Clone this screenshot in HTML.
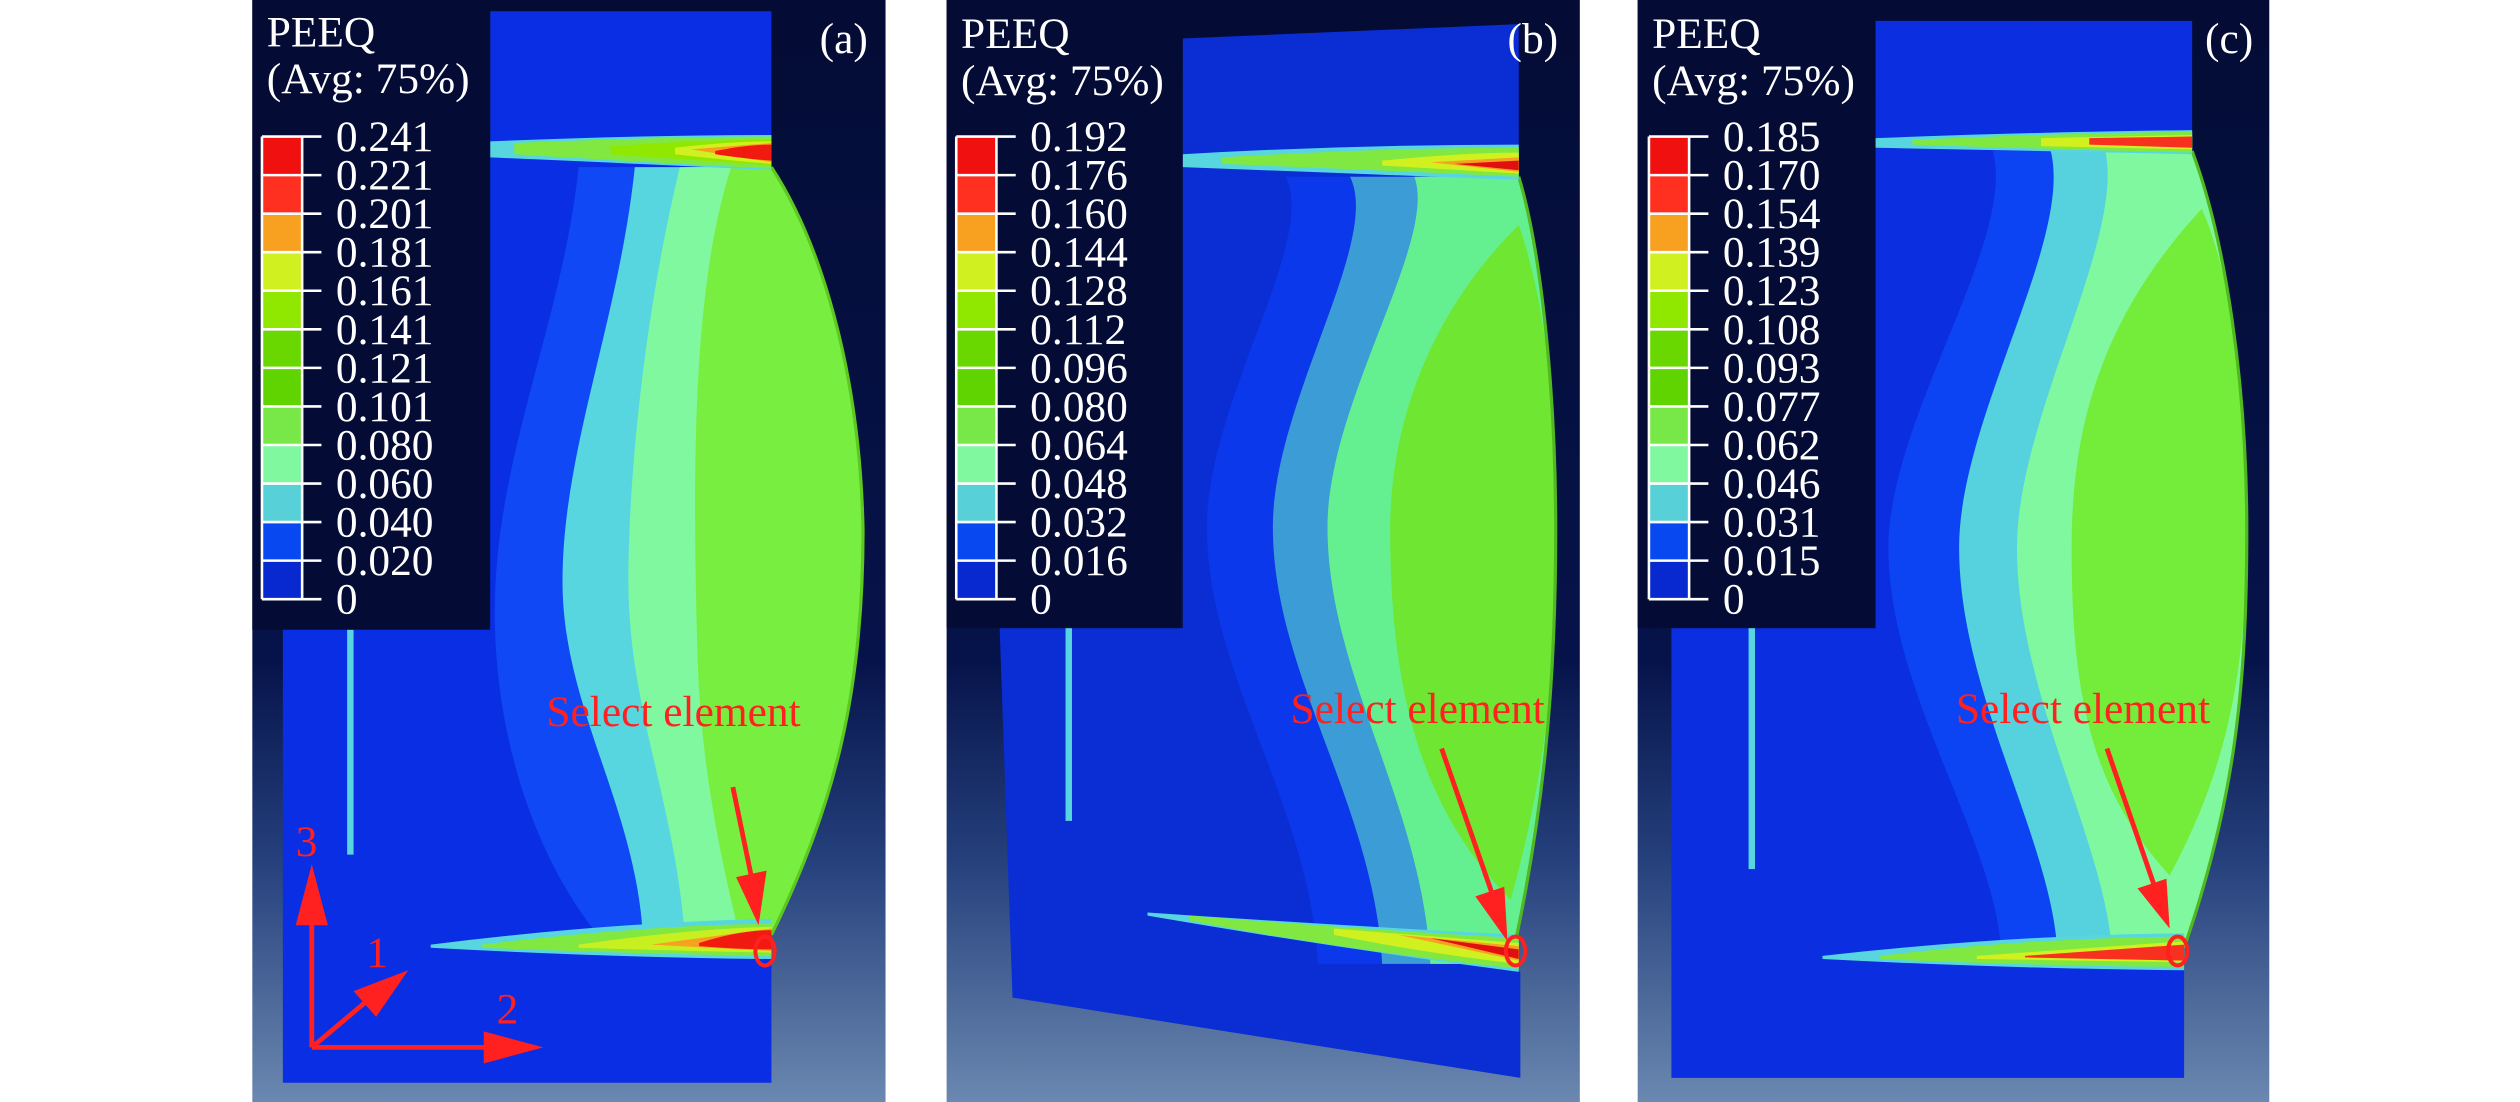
<!DOCTYPE html>
<html><head><meta charset="utf-8"><style>
html,body{margin:0;padding:0;background:#fff;}
svg{display:block;}
</style></head><body>
<svg width="2520" height="1102" viewBox="0 0 1568 686" preserveAspectRatio="none" xmlns="http://www.w3.org/2000/svg" font-family="'Liberation Serif','DejaVu Serif',serif">
<defs>
<linearGradient id="bg" x1="0" y1="0" x2="0" y2="1">
<stop offset="0" stop-color="#040c35"/><stop offset="0.6" stop-color="#06134a"/><stop offset="0.78" stop-color="#25407c"/><stop offset="1" stop-color="#6a88b0"/>
</linearGradient>
</defs>
<rect width="1568" height="686" fill="#fff"/>

<!-- ========== PANEL A ========== -->
<rect x="157" y="0" width="394" height="686" fill="url(#bg)"/>
<path d="M176,86 L305,86 L305,7 L480,7 L480,104 C510,150 535,230 537,330 C537,430 520,500 480,582 L480,674 L176,674 Z" fill="#0a2ee4"/>
<path d="M360,104 C350,200 310,280 308,373 C306,450 330,530 372,582 L480,582 C520,500 537,430 537,330 C535,230 510,150 480,104 Z" fill="#1048f6"/>
<path d="M395,104 C385,200 350,280 350,362 C350,440 395,500 400,582 L480,582 C520,500 537,430 537,330 C535,230 510,150 480,104 Z" fill="#58d6e0"/>
<path d="M423,104 C400,200 391,300 391,362 C391,440 420,500 426,582 L480,582 C520,500 537,430 537,330 C535,230 510,150 480,104 Z" fill="#80f8a0"/>
<path d="M455,104 C430,180 431,300 434,408 C436,480 450,540 460,582 L480,582 C520,500 537,430 537,330 C535,230 510,150 480,104 Z" fill="#78ef40"/>
<path d="M480,104 C510,150 535,230 537,330 C537,430 520,500 480,582" fill="none" stroke="#5cc820" stroke-width="2"/>
<path d="M305,88 Q400,84 480,84 L480,106 Q400,102 305,98 Z" fill="#58d6e0"/>
<path d="M320,89 Q420,85 480,85 L480,105 Q420,102 320,96 Z" fill="#80e840"/>
<path d="M380,91 Q440,87 480,87 L480,103 Q440,100 380,96 Z" fill="#90e800"/>
<path d="M420,92 Q455,88 480,88 L480,102 Q455,100 420,96 Z" fill="#d0f020"/>
<path d="M430,93 L480,89 L480,101 Z" fill="#f8a020"/>
<path d="M445,94 Q465,90 480,90 L480,100 Q465,99 445,96 Z" fill="#f01a10"/>
<path d="M268,588 Q380,574 480,572 L480,597 Q380,596 268,590 Z" fill="#58d6e0"/>
<path d="M300,588 Q400,576 480,575 L480,595 Q400,594 300,590 Z" fill="#80e840"/>
<path d="M360,588 Q430,578 480,577 L480,593 Q430,592 360,590 Z" fill="#c8f020"/>
<path d="M405,588 L480,578 L480,592 Z" fill="#f8a020"/>
<path d="M435,587 Q460,579 480,579 L480,591 Q460,591 435,589 Z" fill="#f01a10"/>
<rect x="216" y="392" width="4" height="140" fill="#58d6e0"/>
<rect x="157" y="0" width="148" height="392" fill="#040c35"/>
<text x="166" y="29" font-size="27" fill="#fff">PEEQ</text>
<text x="166" y="58" font-size="27" fill="#fff">(Avg: 75%)</text>
<g>
<rect x="163" y="85" width="25" height="24" fill="#f01010"/><rect x="163" y="109" width="25" height="24" fill="#ff3020"/><rect x="163" y="133" width="25" height="24" fill="#f8a020"/><rect x="163" y="157" width="25" height="24" fill="#d0f020"/><rect x="163" y="181" width="25" height="24" fill="#90e800"/><rect x="163" y="205" width="25" height="24" fill="#68d800"/><rect x="163" y="229" width="25" height="24" fill="#60d400"/><rect x="163" y="253" width="25" height="24" fill="#78e848"/><rect x="163" y="277" width="25" height="24" fill="#80f8a0"/><rect x="163" y="301" width="25" height="24" fill="#58d0d8"/><rect x="163" y="325" width="25" height="24" fill="#0848f0"/><rect x="163" y="349" width="25" height="24" fill="#0828d0"/>
<path d="M163,85V373 M188,85V373 M163,85H200 M163,109H200 M163,133H200 M163,157H200 M163,181H200 M163,205H200 M163,229H200 M163,253H200 M163,277H200 M163,301H200 M163,325H200 M163,349H200 M163,373H200" stroke="#fff" stroke-width="1.6" fill="none"/>
<g font-size="27" fill="#fff"><text x="209" y="94">0.241</text><text x="209" y="118">0.221</text><text x="209" y="142">0.201</text><text x="209" y="166">0.181</text><text x="209" y="190">0.161</text><text x="209" y="214">0.141</text><text x="209" y="238">0.121</text><text x="209" y="262">0.101</text><text x="209" y="286">0.080</text><text x="209" y="310">0.060</text><text x="209" y="334">0.040</text><text x="209" y="358">0.020</text><text x="209" y="382">0</text></g>
</g>
<text x="510" y="33" font-size="27" fill="#fff">(a)</text>
<text x="340" y="452" font-size="27" fill="#ff2020">Select element</text>
<line x1="456" y1="490" x2="468" y2="548" stroke="#ff2020" stroke-width="3"/>
<polygon points="458,546 477,542 472,576" fill="#ff2020"/>
<ellipse cx="476" cy="592" rx="6" ry="9" fill="none" stroke="#ff2020" stroke-width="2.5"/>
<line x1="194" y1="652" x2="194" y2="570" stroke="#ff2020" stroke-width="3"/>
<polygon points="194,538 184,576 204,576" fill="#ff2020"/>
<line x1="194" y1="652" x2="305" y2="652" stroke="#ff2020" stroke-width="3"/>
<polygon points="338,652 301,642 301,662" fill="#ff2020"/>
<line x1="194" y1="652" x2="232" y2="620" stroke="#ff2020" stroke-width="3"/>
<polygon points="254,604 220,617 234,633" fill="#ff2020"/>
<text x="184" y="533" font-size="27" fill="#ff2020">3</text>
<text x="228" y="602" font-size="27" fill="#ff2020">1</text>
<text x="309" y="637" font-size="27" fill="#ff2020">2</text>

<!-- ========== PANEL B ========== -->
<rect x="589" y="0" width="394" height="686" fill="url(#bg)"/>
<path d="M622,391 L736,391 L736,24 L945,15 L945,110 C960,160 968,250 968,330 C968,430 960,510 940,600 L946,605 L946,671 L630,621 Z" fill="#0a2ed4"/>
<path d="M800,110 C820,150 751,250 751,328 C751,420 815,500 820,600 L940,600 C960,510 968,430 968,330 C968,250 960,160 945,110 Z" fill="#0a38ea"/>
<path d="M840,110 C860,150 792,250 792,328 C792,420 855,500 860,600 L940,600 C960,510 968,430 968,330 C968,250 960,160 945,110 Z" fill="#3c9cd6"/>
<path d="M880,110 C895,150 826,250 826,328 C826,420 885,500 890,600 L940,600 C960,510 968,430 968,330 C968,250 960,160 945,110 Z" fill="#64f090"/>
<path d="M945,140 C885,200 865,270 865,330 C865,420 880,500 940,560 C962,480 968,420 968,330 C968,250 962,190 945,140 Z" fill="#6ee632"/>
<path d="M945,110 C960,160 968,250 968,330 C968,430 960,510 940,600" fill="none" stroke="#50b820" stroke-width="2"/>
<path d="M736,96 Q840,90 945,90 L945,112 Q840,108 736,104 Z" fill="#58d6e0"/>
<path d="M760,98 Q860,92 945,92 L945,110 Q860,106 760,102 Z" fill="#80e840"/>
<path d="M860,100 Q910,95 945,95 L945,108 Q910,106 860,103 Z" fill="#d0f020"/>
<path d="M890,101 L945,98 L945,107 Z" fill="#f8a020"/>
<path d="M905,102 L945,100 L945,106 Z" fill="#e01010"/>
<path d="M714,568 Q830,576 945,582 L945,605 Q830,590 714,570 Z" fill="#58d6e0"/>
<path d="M740,570 Q840,578 945,584 L945,603 Q840,592 740,573 Z" fill="#80e840"/>
<path d="M830,578 Q890,583 945,587 L945,600 Q890,594 830,582 Z" fill="#d0f020"/>
<path d="M870,582 L945,589 L945,598 Z" fill="#f8a020"/>
<path d="M890,584 L945,591 L945,597 Z" fill="#e01010"/>
<rect x="663" y="391" width="4" height="120" fill="#58d6e0"/>
<rect x="589" y="0" width="146" height="391" fill="#040c35"/>
<text x="598" y="30" font-size="27" fill="#fff">PEEQ</text>
<text x="598" y="59" font-size="27" fill="#fff">(Avg: 75%)</text>
<g transform="translate(432,0)">
<rect x="163" y="85" width="25" height="24" fill="#f01010"/><rect x="163" y="109" width="25" height="24" fill="#ff3020"/><rect x="163" y="133" width="25" height="24" fill="#f8a020"/><rect x="163" y="157" width="25" height="24" fill="#d0f020"/><rect x="163" y="181" width="25" height="24" fill="#90e800"/><rect x="163" y="205" width="25" height="24" fill="#68d800"/><rect x="163" y="229" width="25" height="24" fill="#60d400"/><rect x="163" y="253" width="25" height="24" fill="#78e848"/><rect x="163" y="277" width="25" height="24" fill="#80f8a0"/><rect x="163" y="301" width="25" height="24" fill="#58d0d8"/><rect x="163" y="325" width="25" height="24" fill="#0848f0"/><rect x="163" y="349" width="25" height="24" fill="#0828d0"/>
<path d="M163,85V373 M188,85V373 M163,85H200 M163,109H200 M163,133H200 M163,157H200 M163,181H200 M163,205H200 M163,229H200 M163,253H200 M163,277H200 M163,301H200 M163,325H200 M163,349H200 M163,373H200" stroke="#fff" stroke-width="1.6" fill="none"/>
<g font-size="27" fill="#fff"><text x="209" y="94">0.192</text><text x="209" y="118">0.176</text><text x="209" y="142">0.160</text><text x="209" y="166">0.144</text><text x="209" y="190">0.128</text><text x="209" y="214">0.112</text><text x="209" y="238">0.096</text><text x="209" y="262">0.080</text><text x="209" y="286">0.064</text><text x="209" y="310">0.048</text><text x="209" y="334">0.032</text><text x="209" y="358">0.016</text><text x="209" y="382">0</text></g>
</g>
<text x="938" y="33" font-size="27" fill="#fff">(b)</text>
<text x="803" y="450" font-size="27" fill="#ff2020">Select element</text>
<line x1="897" y1="466" x2="928" y2="555" stroke="#ff2020" stroke-width="3"/>
<polygon points="918,558 936,552 938,586" fill="#ff2020"/>
<ellipse cx="943" cy="592" rx="6" ry="9" fill="none" stroke="#ff2020" stroke-width="2.5"/>

<!-- ========== PANEL C ========== -->
<rect x="1019" y="0" width="393" height="686" fill="url(#bg)"/>
<path d="M1040,391 L1167,391 L1167,13 L1364,13 L1364,94 C1385,150 1398,240 1398,330 C1398,430 1390,500 1359,590 L1359,671 L1040,671 Z" fill="#0a2ee0"/>
<path d="M1240,94 C1255,150 1175,260 1175,341 C1175,430 1240,520 1245,590 L1359,590 C1390,500 1398,430 1398,330 C1398,240 1385,150 1364,94 Z" fill="#0c44f4"/>
<path d="M1276,94 C1290,150 1219,260 1219,341 C1219,430 1275,520 1280,590 L1359,590 C1390,500 1398,430 1398,330 C1398,240 1385,150 1364,94 Z" fill="#56d2de"/>
<path d="M1310,94 C1322,150 1255,260 1255,341 C1255,430 1308,520 1314,590 L1359,590 C1390,500 1398,430 1398,330 C1398,240 1385,150 1364,94 Z" fill="#80f8a0"/>
<path d="M1370,130 C1305,200 1289,270 1289,341 C1289,430 1300,490 1350,545 C1385,480 1398,420 1398,330 C1398,240 1388,170 1370,130 Z" fill="#74ec3a"/>
<path d="M1364,94 C1385,150 1398,240 1398,330 C1398,430 1390,500 1359,590" fill="none" stroke="#50b820" stroke-width="2"/>
<path d="M1167,86 Q1270,82 1364,81 L1364,96 Q1270,94 1167,92 Z" fill="#58d6e0"/>
<path d="M1190,87 Q1280,83 1364,82 L1364,95 Q1280,93 1190,90 Z" fill="#80e840"/>
<path d="M1270,86 L1364,84 L1364,93 L1270,91 Z" fill="#d0f020"/>
<path d="M1300,86 L1364,85 L1364,92 L1300,90 Z" fill="#f83020"/>
<path d="M1134,595 Q1250,582 1359,581 L1359,604 Q1250,603 1134,597 Z" fill="#58d6e0"/>
<path d="M1170,595 Q1260,584 1359,583 L1359,602 Q1260,601 1170,597 Z" fill="#80e840"/>
<path d="M1230,595 L1359,586 L1359,599 L1230,597 Z" fill="#d0f020"/>
<path d="M1260,595 L1359,588 L1359,598 L1260,596 Z" fill="#f83020"/>
<rect x="1088" y="391" width="4" height="150" fill="#58d6e0"/>
<rect x="1019" y="0" width="148" height="391" fill="#040c35"/>
<text x="1028" y="30" font-size="27" fill="#fff">PEEQ</text>
<text x="1028" y="59" font-size="27" fill="#fff">(Avg: 75%)</text>
<g transform="translate(863,0)">
<rect x="163" y="85" width="25" height="24" fill="#f01010"/><rect x="163" y="109" width="25" height="24" fill="#ff3020"/><rect x="163" y="133" width="25" height="24" fill="#f8a020"/><rect x="163" y="157" width="25" height="24" fill="#d0f020"/><rect x="163" y="181" width="25" height="24" fill="#90e800"/><rect x="163" y="205" width="25" height="24" fill="#68d800"/><rect x="163" y="229" width="25" height="24" fill="#60d400"/><rect x="163" y="253" width="25" height="24" fill="#78e848"/><rect x="163" y="277" width="25" height="24" fill="#80f8a0"/><rect x="163" y="301" width="25" height="24" fill="#58d0d8"/><rect x="163" y="325" width="25" height="24" fill="#0848f0"/><rect x="163" y="349" width="25" height="24" fill="#0828d0"/>
<path d="M163,85V373 M188,85V373 M163,85H200 M163,109H200 M163,133H200 M163,157H200 M163,181H200 M163,205H200 M163,229H200 M163,253H200 M163,277H200 M163,301H200 M163,325H200 M163,349H200 M163,373H200" stroke="#fff" stroke-width="1.6" fill="none"/>
<g font-size="27" fill="#fff"><text x="209" y="94">0.185</text><text x="209" y="118">0.170</text><text x="209" y="142">0.154</text><text x="209" y="166">0.139</text><text x="209" y="190">0.123</text><text x="209" y="214">0.108</text><text x="209" y="238">0.093</text><text x="209" y="262">0.077</text><text x="209" y="286">0.062</text><text x="209" y="310">0.046</text><text x="209" y="334">0.031</text><text x="209" y="358">0.015</text><text x="209" y="382">0</text></g>
</g>
<text x="1372" y="33" font-size="27" fill="#fff">(c)</text>
<text x="1217" y="450" font-size="27" fill="#ff2020">Select element</text>
<line x1="1311" y1="466" x2="1340" y2="550" stroke="#ff2020" stroke-width="3"/>
<polygon points="1330,553 1348,547 1350,578" fill="#ff2020"/>
<ellipse cx="1355" cy="592" rx="6" ry="9" fill="none" stroke="#ff2020" stroke-width="2.5"/>
</svg>
</body></html>
